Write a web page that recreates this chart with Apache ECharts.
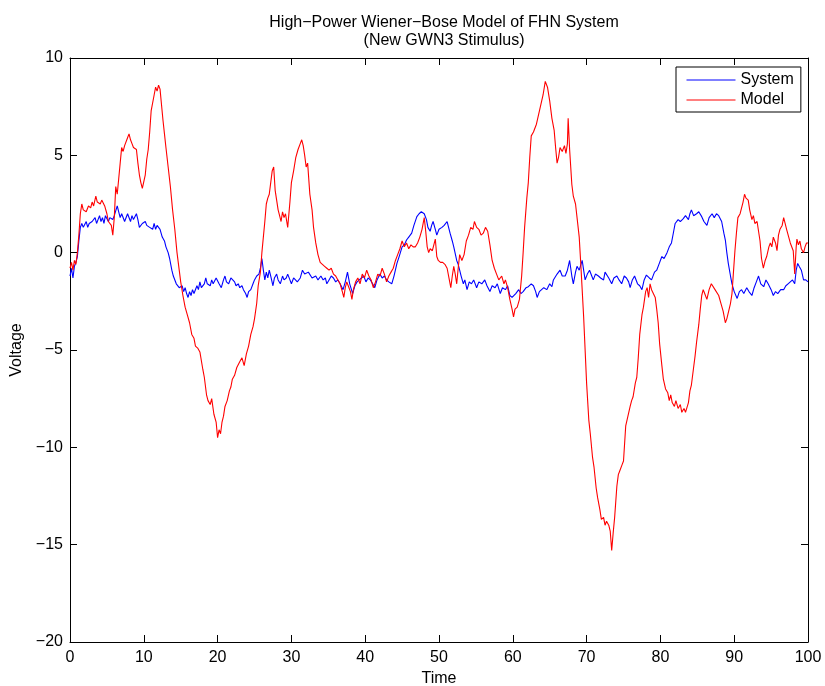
<!DOCTYPE html>
<html>
<head>
<meta charset="utf-8">
<script src="https://cdn.jsdelivr.net/npm/echarts@6/dist/echarts.min.js"></script>
<style>
  html, body { margin: 0; padding: 0; background: #fff; }
  #chart { width: 825px; height: 686px; }
</style>
</head>
<body>
<div id="chart"></div>
<script>
// values: [time, voltage]
const system = [
  [0,-1.2],[0.2,-0.8],[0.4,-1.3],[0.6,-0.7],[0.8,-0.5],[1.0,-0.2],[1.2,0.6],[1.4,1.3],[1.6,1.5],[1.8,1.3],
  [2.0,1.4],[2.2,1.6],[2.4,1.3],[2.6,1.5],[2.8,1.4],[3.0,1.6],[3.2,1.5],[3.4,1.8],[3.6,1.5],[3.8,1.7],
  [4.0,1.9],[4.2,1.6],[4.4,1.8],[4.6,1.5],[4.8,1.9],[5.0,1.8],[5.2,1.6],[5.4,1.8],[5.6,1.9],[5.8,1.7],
  [6.0,1.9],[6.2,1.8],[6.4,2.4],[6.6,2.1],[6.8,1.8],[7.0,2.0],[7.2,1.9],[7.4,1.6],[7.6,1.7],[7.8,2.0],
  [8.0,1.9],[8.2,1.6],[8.4,1.9],[8.6,1.7],[8.8,1.8],[9.0,2.0],[9.2,1.7],[9.4,1.3],[9.6,1.2],[9.8,1.5],
  [10.0,1.4],[10.2,1.6],[10.4,1.4],[10.6,1.5],[10.8,1.3],[11.0,1.4],[11.2,1.2],[11.4,1.5],[11.6,1.2],[11.8,1.4],
  [12.0,1.3],[12.2,1.2],[12.5,0.8],[12.8,0.6],[13.0,0.3],[13.3,0.0],[13.5,-0.3],[13.8,-0.9],[14.0,-1.2],[14.2,-1.1],
  [14.4,-1.6],[14.6,-1.5],[14.8,-1.8],[15.0,-1.9],[15.2,-1.7],[15.4,-2.0],[15.6,-1.8],[15.8,-2.1],[16.0,-2.3],[16.2,-2.0],
  [16.4,-2.2],[16.6,-1.9],[16.8,-2.1],[17.0,-2.0],[17.2,-1.7],[17.4,-1.9],[17.6,-1.5],[17.8,-1.8],[18.0,-1.9],[18.2,-1.6],
  [18.4,-1.3],[18.6,-1.6],[18.8,-1.5],[19.0,-1.7],[19.2,-1.4],[19.4,-1.6],[19.6,-1.5],[19.8,-1.3],[20.0,-1.4],[20.2,-1.6],
  [20.5,-1.8],[20.8,-1.4],[21.0,-1.2],[21.2,-1.5],[21.5,-1.6],[21.8,-1.3],[22.0,-1.4],[22.3,-1.5],[22.5,-1.7],[22.8,-1.6],
  [23.0,-1.8],[23.3,-1.7],[23.5,-1.9],[23.8,-2.1],[24.0,-2.3],[24.2,-2.0],[24.5,-1.9],[24.8,-1.6],[25.0,-1.4],[25.3,-1.2],
  [25.6,-1.1],[25.8,-0.8],[26.0,-0.3],[26.2,-0.9],[26.4,-1.4],[26.6,-1.0],[26.8,-1.3],[27.0,-0.9],[27.2,-1.2],[27.5,-1.7],
  [27.7,-1.3],[28.0,-1.1],[28.2,-1.4],[28.5,-1.6],[28.8,-1.2],[29.0,-1.4],[29.3,-1.3],[29.5,-1.1],[29.8,-1.4],[30.0,-1.6],
  [30.3,-1.3],[30.5,-1.4],[30.8,-1.5],[31.0,-1.6],[31.2,-1.3],[31.5,-0.9],[31.8,-1.1],[32.0,-1.2],[32.3,-1.0],[32.5,-0.9],
  [32.8,-1.3],[33.0,-1.4],[33.3,-1.2],[33.6,-1.4],[34.0,-1.2],[34.3,-1.4],[34.6,-1.3],[34.8,-1.6],[35.1,-1.4],[35.4,-1.2],
  [35.7,-1.3],[36.0,-1.5],[36.3,-1.4],[36.6,-1.6],[37.0,-1.9],[37.3,-1.5],[37.6,-1.0],[37.9,-1.6],[38.3,-2.1],[38.6,-1.7],
  [38.9,-1.5],[39.2,-1.4],[39.5,-1.3],[39.8,-1.2],[40.1,-1.5],[40.4,-1.3],[40.7,-1.4],[41.0,-1.6],[41.3,-1.8],[41.6,-1.4],
  [42.0,-1.1],[42.3,-1.3],[42.6,-1.2],[42.9,-1.4],[43.2,-1.5],[43.6,-1.6],[43.9,-1.2],[44.3,-0.55],[44.6,-0.2],[45.0,0.3],
  [45.3,0.4],[45.6,0.65],[45.9,0.8],[46.3,1.0],[46.6,1.4],[47.0,1.85],[47.3,2.0],[47.6,2.1],[47.8,2.2],[48.0,2.0],
  [48.3,1.7],[48.5,1.3],[48.8,1.1],[49.0,1.4],[49.2,1.6],[49.5,1.2],[49.7,0.9],[50.0,1.2],[50.4,1.3],[50.7,1.4],
  [51.1,1.6],[51.3,1.3],[51.5,1.0],[51.8,0.6],[52.0,0.3],[52.4,-0.4],[52.6,-0.6],[52.8,-0.9],[53.0,-1.2],[53.3,-1.6],
  [53.5,-1.4],[53.8,-1.9],[54.1,-1.5],[54.4,-1.6],[54.7,-1.4],[55.1,-1.8],[55.4,-1.5],[55.8,-1.6],[56.2,-1.4],[56.5,-1.7],
  [56.9,-2.0],[57.2,-1.7],[57.6,-1.8],[57.9,-1.6],[58.3,-2.1],[58.6,-1.8],[59.0,-1.9],[59.3,-1.7],[59.6,-2.2],[59.9,-2.3],
  [60.1,-2.4],[60.4,-2.1],[60.8,-1.9],[61.1,-2.1],[61.4,-2.0],[61.8,-1.8],[62.1,-1.75],[62.5,-1.6],[62.8,-1.7],[63.1,-2.0],
  [63.3,-2.3],[63.6,-2.0],[63.9,-1.9],[64.2,-1.8],[64.6,-1.9],[65.0,-1.6],[65.3,-1.75],[65.5,-1.4],[65.7,-1.4],[66.0,-1.1],
  [66.4,-0.9],[66.7,-1.2],[67.1,-1.2],[67.4,-0.9],[67.7,-0.4],[68.0,-1.2],[68.2,-1.6],[68.5,-1.0],[68.7,-0.7],[69.0,-0.9],
  [69.4,-0.4],[69.8,-1.4],[70.1,-1.1],[70.4,-0.9],[70.7,-1.2],[70.9,-1.4],[71.2,-1.1],[71.6,-1.2],[71.9,-1.3],[72.3,-1.4],
  [72.5,-1.0],[72.7,-1.1],[73.0,-1.3],[73.4,-1.6],[73.7,-1.3],[74.1,-1.2],[74.4,-1.4],[74.75,-1.6],[75.1,-1.2],[75.4,-1.3],
  [75.7,-1.5],[75.9,-1.8],[76.2,-1.4],[76.5,-1.2],[76.9,-1.6],[77.2,-1.7],[77.5,-1.9],[77.8,-1.4],[78.1,-1.15],[78.5,-1.3],
  [78.8,-1.4],[79.2,-1.0],[79.5,-0.9],[79.8,-0.6],[80.2,-0.2],[80.5,-0.3],[80.9,0.0],[81.2,0.3],[81.5,0.5],[81.8,1.1],
  [82.0,1.5],[82.4,1.7],[82.7,1.6],[83.1,1.75],[83.4,1.9],[83.8,1.7],[84.0,2.0],[84.2,2.2],[84.5,1.9],[84.9,2.0],
  [85.2,2.1],[85.6,1.85],[85.9,1.6],[86.3,1.4],[86.6,1.8],[87.0,2.0],[87.3,1.8],[87.6,2.0],[87.9,1.9],[88.3,1.6],
  [88.6,1.0],[88.8,0.65],[89.0,0.0],[89.2,-0.55],[89.5,-1.2],[89.7,-1.6],[90.0,-2.0],[90.4,-2.35],[90.7,-2.0],[91.0,-1.9],
  [91.3,-2.1],[91.7,-1.8],[92.0,-2.0],[92.4,-2.2],[92.7,-1.8],[93.0,-1.5],[93.3,-1.2],[93.6,-1.6],[94.0,-1.75],[94.3,-1.4],
  [94.6,-1.6],[95.0,-1.9],[95.3,-2.2],[95.6,-2.0],[95.9,-2.1],[96.3,-1.9],[96.7,-1.9],[97.0,-1.7],[97.3,-1.6],[97.6,-1.5],
  [97.9,-1.4],[98.2,-1.6],[98.4,-0.9],[98.6,-0.55],[98.8,-0.7],[99.1,-0.9],[99.4,-1.4],[99.7,-1.4],[100,-1.5]
]

const model = [
  [0,-0.8],[0.2,-0.5],[0.4,-0.9],[0.6,-0.4],[0.8,-0.6],[1.0,0],[1.2,0.9],[1.4,2.0],[1.6,2.5],[1.8,2.2],
  [2.0,2.3],[2.2,2.1],[2.5,2.4],[2.8,2.3],[3.0,2.6],[3.2,2.4],[3.5,2.9],[3.7,2.6],[3.9,2.7],[4.1,2.5],
  [4.3,2.7],[4.5,2.8],[4.7,2.4],[5.0,2.0],[5.2,1.6],[5.4,1.7],[5.6,1.4],[5.8,0.9],[6.0,1.8],[6.2,3.4],
  [6.4,3.0],[6.6,3.8],[6.8,4.6],[7.0,5.4],[7.2,5.2],[7.4,5.5],[7.6,5.4],[7.8,5.9],[8.0,6.1],[8.2,5.8],
  [8.4,5.6],[8.6,5.4],[8.8,5.5],[9.0,5.3],[9.2,4.6],[9.4,4.0],[9.6,3.6],[9.8,3.3],[10.0,3.2],[10.2,4.0],
  [10.4,4.8],[10.6,5.3],[10.8,6.2],[11.0,7.3],[11.2,7.4],[11.4,8.1],[11.6,8.5],[11.8,8.3],[12.0,8.6],[12.2,8.4],
  [12.4,7.6],[12.6,6.8],[12.8,6.1],[13.0,5.4],[13.3,4.4],[13.6,3.4],[13.9,2.2],[14.2,1.2],[14.5,0.0],[14.8,-0.9],
  [15.0,-1.5],[15.3,-2.2],[15.6,-2.8],[15.9,-3.2],[16.2,-3.6],[16.5,-4.2],[16.8,-4.4],[17.0,-4.8],[17.3,-4.9],[17.6,-5.1],
  [17.8,-5.0],[18.0,-6.0],[18.2,-6.4],[18.5,-7.3],[18.7,-7.6],[19.0,-7.8],[19.2,-7.5],[19.5,-8.3],[19.8,-8.7],[20.0,-9.5],
  [20.2,-9.1],[20.4,-9.3],[20.6,-8.7],[20.8,-8.4],[21.0,-7.9],[21.3,-7.6],[21.6,-7.1],[21.8,-6.9],[22.0,-6.5],[22.3,-6.3],
  [22.6,-5.9],[23.0,-5.6],[23.3,-5.4],[23.6,-5.8],[23.9,-5.2],[24.2,-4.8],[24.5,-4.2],[24.8,-3.8],[25.0,-3.4],[25.3,-2.6],
  [25.5,-1.7],[25.8,-1.0],[26.0,0.0],[26.2,0.1],[26.4,1.6],[26.6,2.5],[26.8,2.8],[27.0,3.0],[27.2,3.6],[27.4,4.2],
  [27.6,4.4],[27.8,3.2],[28.0,2.7],[28.2,2.2],[28.4,1.9],[28.6,1.6],[28.8,2.1],[29.0,1.8],[29.2,2.0],[29.5,1.3],
  [29.8,2.6],[30.0,3.6],[30.3,4.2],[30.6,4.9],[30.9,5.3],[31.2,5.6],[31.4,5.8],[31.6,5.5],[31.8,5.0],[32.0,4.4],
  [32.2,4.6],[32.5,3.0],[32.8,2.2],[33.0,1.3],[33.3,0.5],[33.6,-0.1],[33.9,-0.5],[34.2,-0.6],[34.5,-0.7],[34.8,-0.8],
  [35.1,-0.9],[35.4,-0.8],[35.7,-1.1],[36.0,-1.2],[36.3,-1.4],[36.6,-1.6],[36.9,-2.0],[37.1,-2.3],[37.3,-1.8],[37.5,-1.5],
  [37.7,-1.7],[38.0,-2.0],[38.2,-2.4],[38.4,-1.9],[38.7,-1.5],[39.0,-1.3],[39.3,-1.6],[39.6,-1.1],[39.9,-1.3],[40.2,-0.9],
  [40.5,-1.2],[40.8,-1.4],[41.1,-1.8],[41.4,-1.5],[41.7,-1.1],[42.0,-1.2],[42.3,-0.8],[42.6,-1.1],[42.9,-1.5],[43.2,-1.2],
  [43.5,-1.0],[43.8,-0.8],[44.1,-0.4],[44.4,-0.1],[44.7,0.2],[45.0,0.6],[45.3,0.3],[45.6,0.5],[45.9,0.2],[46.2,0.4],
  [46.5,0.3],[46.8,0.3],[47.1,0.5],[47.4,0.8],[47.7,1.2],[48.0,1.8],[48.2,1.1],[48.4,0.3],[48.6,0.0],[48.8,0.2],
  [49.1,0.1],[49.3,0.4],[49.5,0.7],[49.7,-0.2],[49.9,-0.4],[50.2,-0.5],[50.5,-0.5],[50.8,-0.6],[51.1,-0.8],[51.4,-1.4],
  [51.6,-1.8],[51.8,-1.2],[52.0,-0.7],[52.2,-1.1],[52.4,-1.6],[52.6,-0.8],[52.8,-0.1],[53.1,-0.4],[53.4,-0.1],[53.7,0.6],
  [54.0,0.9],[54.3,1.3],[54.6,1.2],[54.8,1.6],[55.1,1.3],[55.4,1.2],[55.7,0.9],[56.0,1.0],[56.3,1.3],[56.6,1.1],
  [56.9,0.4],[57.2,-0.4],[57.5,-0.8],[57.8,-1.1],[58.1,-1.4],[58.5,-1.2],[58.8,-1.6],[59.0,-1.4],[59.3,-1.8],[59.6,-2.4],
  [59.9,-2.9],[60.1,-3.3],[60.3,-2.9],[60.6,-2.8],[60.9,-2.4],[61.2,-1.2],[61.4,0.0],[61.6,1.3],[61.9,2.8],[62.1,3.6],
  [62.3,4.9],[62.5,6.0],[62.8,6.2],[63.2,6.6],[63.5,7.1],[63.8,7.6],[64.1,8.1],[64.4,8.8],[64.7,8.5],[65.0,7.8],
  [65.3,6.9],[65.6,6.3],[65.8,5.4],[66.0,4.6],[66.2,4.9],[66.4,5.4],[66.7,5.2],[67.0,5.5],[67.2,5.1],[67.4,5.6],
  [67.5,6.9],[67.7,5.3],[68.0,3.5],[68.2,2.9],[68.5,2.5],[68.7,2.4],[69.0,0.8],[69.2,-0.5],[69.6,-3.3],[70.0,-6.7],
  [70.3,-8.6],[70.5,-9.3],[70.8,-10.5],[71.0,-11.0],[71.3,-12.1],[71.5,-12.6],[71.8,-13.2],[72.0,-13.7],[72.3,-13.6],[72.5,-14.0],
  [72.7,-13.8],[73.0,-14.0],[73.2,-14.3],[73.4,-15.3],[73.6,-14.4],[73.8,-13.6],[74.1,-12.0],[74.3,-11.4],[74.5,-11.2],[74.8,-10.9],
  [75.0,-10.7],[75.3,-8.9],[75.6,-8.4],[75.9,-7.9],[76.1,-7.6],[76.3,-7.4],[76.6,-6.7],[76.8,-6.4],[77.0,-5.4],[77.2,-4.2],
  [77.5,-3.2],[77.7,-2.8],[78.0,-2.0],[78.2,-1.8],[78.4,-2.3],[78.6,-1.6],[78.8,-1.9],[79.0,-1.8],[79.3,-2.3],[79.5,-2.9],
  [79.7,-3.6],[79.9,-4.7],[80.2,-5.8],[80.4,-6.5],[80.7,-7.0],[81.0,-7.2],[81.2,-7.6],[81.4,-7.3],[81.6,-7.7],[81.9,-7.9],
  [82.1,-7.6],[82.4,-8.0],[82.7,-7.8],[82.9,-8.2],[83.2,-8.0],[83.4,-8.2],[83.6,-8.1],[83.8,-7.7],[84.0,-7.1],[84.2,-6.8],
  [84.5,-5.9],[84.7,-5.3],[84.9,-4.6],[85.2,-3.7],[85.4,-2.9],[85.6,-2.2],[85.8,-1.9],[86.0,-2.1],[86.3,-2.4],[86.6,-1.9],
  [86.9,-1.6],[87.1,-1.7],[87.4,-1.9],[87.6,-2.0],[87.9,-2.2],[88.2,-2.6],[88.5,-3.0],[88.8,-3.6],[89.0,-3.4],[89.2,-3.3],
  [89.5,-2.6],[89.7,-2.1],[89.9,-1.0],[90.1,0.1],[90.3,1.0],[90.5,1.8],[90.8,2.0],[91.0,2.0],[91.2,2.6],[91.4,3.0],
  [91.6,2.8],[91.9,2.7],[92.1,2.2],[92.4,1.7],[92.6,1.9],[92.8,1.5],[93.1,1.6],[93.3,1.5],[93.5,0.6],[93.7,-0.3],
  [93.95,-0.8],[94.2,-0.4],[94.4,-0.2],[94.7,0.3],[94.9,0.5],[95.1,0.3],[95.3,0.8],[95.6,0.5],[95.8,0.1],[96.0,0.9],
  [96.2,1.2],[96.5,1.4],[96.7,1.8],[96.9,1.5],[97.1,1.2],[97.3,1.3],[97.6,0.5],[97.8,0.6],[98.0,0.1],[98.2,-1.1],
  [98.4,0.3],[98.5,0.7],[98.7,0.4],[98.9,0.6],[99.1,0.2],[99.4,0.0],[99.6,0.3],[99.8,0.5],[100,0.5]
]

const seriesNames = ['System', 'Model']
const seriesColors = ['#0000ff', '#ff0000']
const xTicks = { min: 0, max: 100, step: 10 }
const yTicks = { min: -20, max: 10, step: 5 }

const font = 'Liberation Sans, Arial, Helvetica, sans-serif'
const minus = v => String(v).replace('-', '\u2212')

function boxAxis(range, extra) {
  return Object.assign({
    type: 'value',
    min: range.min,
    max: range.max,
    interval: range.step,
    splitLine: { show: false },
    axisLine: { show: true, onZero: false, lineStyle: { color: '#000', width: 1 } },
    axisTick: { show: true, inside: true, length: 7, lineStyle: { color: '#000' } },
    axisLabel: { show: false }
  }, extra)
}

const chart = echarts.init(document.getElementById('chart'), null, { renderer: 'canvas' })

chart.setOption({
  animation: false,
  backgroundColor: '#fff',
  title: {
    text: 'High\u2212Power Wiener\u2212Bose Model of FHN System\n(New GWN3 Stimulus)',
    left: 439,
    top: 9,
    textAlign: 'center',
    textStyle: { fontFamily: font, fontSize: 16, fontWeight: 'normal', color: '#000', lineHeight: 18 }
  },
  grid: { left: 70, right: 17, top: 58, bottom: 44, containLabel: false, outerBoundsMode: 'none' },
  legend: {
    orient: 'vertical',
    left: 676,
    top: 67,
    padding: [5, 7, 4, 10],
    itemGap: 4,
    itemWidth: 49,
    itemHeight: 16,
    backgroundColor: '#fff',
    borderColor: '#000',
    borderWidth: 1,
    borderRadius: 0,
    itemStyle: { opacity: 0, borderWidth: 0 },
    lineStyle: { width: 1 },
    textStyle: { fontFamily: font, fontSize: 16, color: '#000' },
    data: seriesNames
  },
  xAxis: [
    boxAxis(xTicks, {
      position: 'bottom',
      name: 'Time',
      nameLocation: 'middle',
      nameGap: 27,
      nameTextStyle: { fontFamily: font, fontSize: 16, color: '#000' },
      axisLabel: { show: true, margin: 8, color: '#000', fontFamily: font, fontSize: 16 }
    }),
    boxAxis(xTicks, { position: 'top' })
  ],
  yAxis: [
    boxAxis(yTicks, {
      position: 'left',
      name: 'Voltage',
      nameLocation: 'middle',
      nameGap: 36,
      nameTextStyle: { fontFamily: font, fontSize: 16, color: '#000' },
      axisLabel: { show: true, margin: 7, color: '#000', fontFamily: font, fontSize: 16, formatter: minus }
    }),
    boxAxis(yTicks, { position: 'right' })
  ],
  series: [system, model].map((d, i) => ({
    name: seriesNames[i],
    type: 'line',
    xAxisIndex: 0,
    yAxisIndex: 0,
    data: d,
    symbol: 'none',
    showSymbol: false,
    color: seriesColors[i],
    lineStyle: { width: 1.1, color: seriesColors[i] },
    z: 2
  }))
})
</script>
</body>
</html>
